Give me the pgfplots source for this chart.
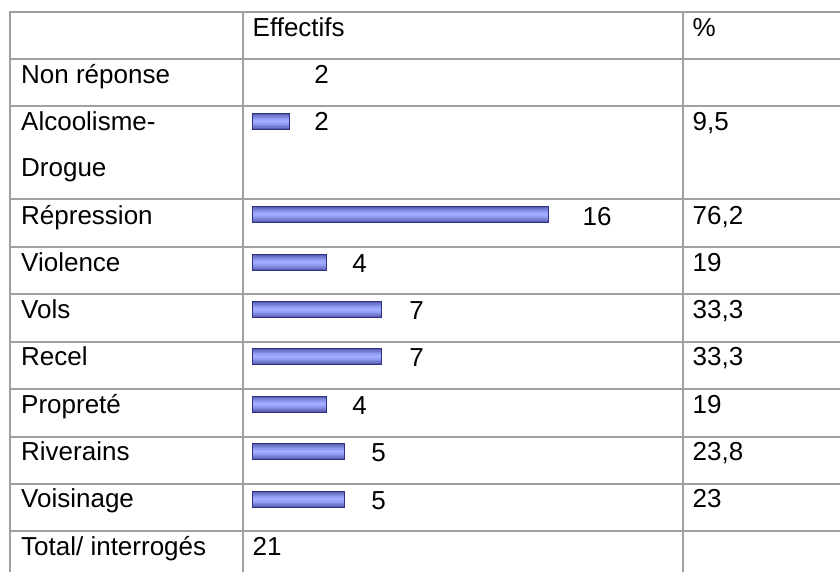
\documentclass[border=0pt]{standalone}
\usepackage{fontspec}
\setmainfont{Liberation Sans}
\usepackage{pgfplots}
\usepackage{pgfplotstable}
\pgfplotsset{compat=1.18}
\definecolor{gridgray}{HTML}{A0A0A0}
\definecolor{barline}{HTML}{2E3088}
\definecolor{barA}{HTML}{5A5EAE}
\definecolor{barB}{HTML}{6E74C8}
\definecolor{barC}{HTML}{8088E0}
\definecolor{barD}{HTML}{8F9AF2}
\definecolor{barE}{HTML}{9AA6FF}
\definecolor{barF}{HTML}{A2AEFF}
\pgfplotstableread{
v  y
2  121.5
16 214.5
4  262.5
7  309.5
7  356.7
4  404
5  451.7
5  499.3
}\bardata
\begin{document}
\fontsize{26}{31}\selectfont
\begin{tikzpicture}
% ---------- frame and text, pixel coordinates ----------
\begin{axis}[at={(0,0)}, anchor=south west, width=840pt, height=572pt,
  scale only axis, xmin=0, xmax=840, ymin=0, ymax=572, y dir=reverse,
  hide axis, clip=false]
  \foreach \yy in {12,59,106,199.5,247,294,341.5,389,436.5,483.5,531}{
    \edef\tmp{\noexpand\draw[gridgray, line width=2pt] (axis cs:9.5,\yy) -- (axis cs:840,\yy);}\tmp
  }
  \foreach \xx in {9.5,242.5,683}{
    \edef\tmp{\noexpand\draw[gridgray, line width=2pt] (axis cs:\xx,11) -- (axis cs:\xx,572);}\tmp
  }
  % header
  \node[anchor=base west, inner sep=0] at (axis cs:252.5,36.5) {Effectifs};
  \node[anchor=base west, inner sep=0] at (axis cs:692.5,36.5) {\%};
  % row labels
  \node[anchor=base west, inner sep=0] at (axis cs:21,83.5) {Non réponse};
  \node[anchor=base west, inner sep=0] at (axis cs:21,130.5) {Alcoolisme-};
  \node[anchor=base west, inner sep=0] at (axis cs:21,177) {Drogue};
  \node[anchor=base west, inner sep=0] at (axis cs:21,224) {Répression};
  \node[anchor=base west, inner sep=0] at (axis cs:21,271) {Violence};
  \node[anchor=base west, inner sep=0] at (axis cs:21,318) {Vols};
  \node[anchor=base west, inner sep=0] at (axis cs:21,365.5) {Recel};
  \node[anchor=base west, inner sep=0] at (axis cs:21,413) {Propreté};
  \node[anchor=base west, inner sep=0] at (axis cs:21,460.5) {Riverains};
  \node[anchor=base west, inner sep=0] at (axis cs:21,507.5) {Voisinage};
  \node[anchor=base west, inner sep=0] at (axis cs:21,555.5) {Total/ interrogés};
  \node[anchor=base west, inner sep=0] at (axis cs:252.5,555.5) {21};
  % percentages
  \node[anchor=base west, inner sep=0] at (axis cs:692.5,130.5) {9,5};
  \node[anchor=base west, inner sep=0] at (axis cs:692.5,224) {76,2};
  \node[anchor=base west, inner sep=0] at (axis cs:692.5,271) {19};
  \node[anchor=base west, inner sep=0] at (axis cs:692.5,318) {33,3};
  \node[anchor=base west, inner sep=0] at (axis cs:692.5,365.5) {33,3};
  \node[anchor=base west, inner sep=0] at (axis cs:692.5,413) {19};
  \node[anchor=base west, inner sep=0] at (axis cs:692.5,460.5) {23,8};
  \node[anchor=base west, inner sep=0] at (axis cs:692.5,507.5) {23};
  % value labels
  \node[anchor=base, inner sep=0] at (axis cs:321.5,83.5) {2};
  \node[anchor=base, inner sep=0] at (axis cs:321.5,131) {2};
  \node[anchor=base, inner sep=0] at (axis cs:597,225) {16};
  \node[anchor=base, inner sep=0] at (axis cs:359.5,272) {4};
  \node[anchor=base, inner sep=0] at (axis cs:416.5,319.5) {7};
  \node[anchor=base, inner sep=0] at (axis cs:416.5,366.5) {7};
  \node[anchor=base, inner sep=0] at (axis cs:359.5,414) {4};
  \node[anchor=base, inner sep=0] at (axis cs:378.7,461.5) {5};
  \node[anchor=base, inner sep=0] at (axis cs:378.7,509) {5};
\end{axis}
% ---------- bars, value coordinates ----------
\begin{axis}[at={(0,0)}, anchor=south west, width=840pt, height=572pt,
  scale only axis, xmin=-13.671, xmax=31.808, ymin=0, ymax=572, y dir=reverse,
  hide axis]
  \addplot[xbar, bar shift=0pt, bar width=16pt, draw=none, fill=barA] table[x=v, y=y] {\bardata};
  \addplot[xbar, bar shift=0pt, bar width=13pt, draw=none, fill=barB] table[x=v, y=y] {\bardata};
  \addplot[xbar, bar shift=0pt, bar width=10pt, draw=none, fill=barC] table[x=v, y=y] {\bardata};
  \addplot[xbar, bar shift=0pt, bar width=7pt, draw=none, fill=barD] table[x=v, y=y] {\bardata};
  \addplot[xbar, bar shift=0pt, bar width=4pt, draw=none, fill=barE] table[x=v, y=y] {\bardata};
  \addplot[xbar, bar shift=0pt, bar width=2pt, draw=none, fill=barF] table[x=v, y=y] {\bardata};
  \addplot[xbar, bar shift=0pt, bar width=16pt, draw=barline, line width=1pt, fill=none] table[x=v, y=y] {\bardata};
\end{axis}
\pgfresetboundingbox
\path (0,0) rectangle (840pt,572pt);
\end{tikzpicture}
\end{document}
